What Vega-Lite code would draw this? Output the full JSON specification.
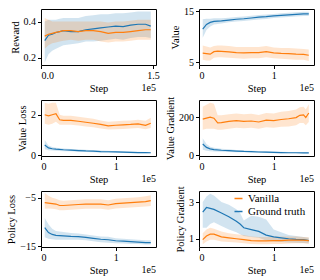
{
"$schema": "https://vega.github.io/schema/vega-lite/v6.json",
"padding": {"left": 6, "top": 5, "right": 5, "bottom": 2},
"bounds": "flush",
"columns": 2,
"spacing": {"row": 35, "column": 43},
"resolve": {"scale": {"x": "independent", "y": "independent"}},
"datasets": {
"r": [
{"s":"Ground truth","x":0.05,"m":0.295,"lo":0.175,"hi":0.40},
{"s":"Ground truth","x":0.1,"m":0.325,"lo":0.22,"hi":0.41},
{"s":"Ground truth","x":0.15,"m":0.33,"lo":0.24,"hi":0.41},
{"s":"Ground truth","x":0.2,"m":0.34,"lo":0.25,"hi":0.41},
{"s":"Ground truth","x":0.25,"m":0.345,"lo":0.26,"hi":0.415},
{"s":"Ground truth","x":0.3,"m":0.35,"lo":0.27,"hi":0.42},
{"s":"Ground truth","x":0.4,"m":0.345,"lo":0.275,"hi":0.42},
{"s":"Ground truth","x":0.5,"m":0.345,"lo":0.28,"hi":0.42},
{"s":"Ground truth","x":0.6,"m":0.355,"lo":0.29,"hi":0.43},
{"s":"Ground truth","x":0.7,"m":0.36,"lo":0.29,"hi":0.435},
{"s":"Ground truth","x":0.8,"m":0.365,"lo":0.295,"hi":0.44},
{"s":"Ground truth","x":0.9,"m":0.37,"lo":0.30,"hi":0.44},
{"s":"Ground truth","x":1.0,"m":0.375,"lo":0.305,"hi":0.445},
{"s":"Ground truth","x":1.1,"m":0.372,"lo":0.30,"hi":0.445},
{"s":"Ground truth","x":1.2,"m":0.38,"lo":0.31,"hi":0.45},
{"s":"Ground truth","x":1.3,"m":0.385,"lo":0.315,"hi":0.455},
{"s":"Ground truth","x":1.4,"m":0.385,"lo":0.315,"hi":0.455},
{"s":"Ground truth","x":1.47,"m":0.375,"lo":0.31,"hi":0.455},
{"s":"Vanilla","x":0.05,"m":0.32,"lo":0.25,"hi":0.42},
{"s":"Vanilla","x":0.1,"m":0.33,"lo":0.27,"hi":0.41},
{"s":"Vanilla","x":0.15,"m":0.335,"lo":0.28,"hi":0.40},
{"s":"Vanilla","x":0.2,"m":0.34,"lo":0.285,"hi":0.40},
{"s":"Vanilla","x":0.25,"m":0.345,"lo":0.29,"hi":0.40},
{"s":"Vanilla","x":0.3,"m":0.35,"lo":0.295,"hi":0.40},
{"s":"Vanilla","x":0.4,"m":0.35,"lo":0.30,"hi":0.40},
{"s":"Vanilla","x":0.5,"m":0.345,"lo":0.295,"hi":0.40},
{"s":"Vanilla","x":0.6,"m":0.35,"lo":0.30,"hi":0.40},
{"s":"Vanilla","x":0.7,"m":0.35,"lo":0.30,"hi":0.40},
{"s":"Vanilla","x":0.8,"m":0.345,"lo":0.29,"hi":0.40},
{"s":"Vanilla","x":0.9,"m":0.335,"lo":0.285,"hi":0.395},
{"s":"Vanilla","x":1.0,"m":0.34,"lo":0.29,"hi":0.40},
{"s":"Vanilla","x":1.1,"m":0.34,"lo":0.29,"hi":0.40},
{"s":"Vanilla","x":1.2,"m":0.345,"lo":0.295,"hi":0.405},
{"s":"Vanilla","x":1.3,"m":0.35,"lo":0.30,"hi":0.41},
{"s":"Vanilla","x":1.4,"m":0.355,"lo":0.30,"hi":0.41},
{"s":"Vanilla","x":1.47,"m":0.355,"lo":0.30,"hi":0.41}
],
"v": [
{"s":"Ground truth","x":0.05,"m":11.5,"lo":9.8,"hi":13.4},
{"s":"Ground truth","x":0.1,"m":12.4,"lo":11.3,"hi":13.5},
{"s":"Ground truth","x":0.15,"m":12.8,"lo":12.0,"hi":13.5},
{"s":"Ground truth","x":0.2,"m":13.0,"lo":12.4,"hi":13.6},
{"s":"Ground truth","x":0.25,"m":13.05,"lo":12.5,"hi":13.6},
{"s":"Ground truth","x":0.3,"m":13.1,"lo":12.6,"hi":13.6},
{"s":"Ground truth","x":0.4,"m":13.25,"lo":12.8,"hi":13.7},
{"s":"Ground truth","x":0.5,"m":13.4,"lo":12.95,"hi":13.85},
{"s":"Ground truth","x":0.6,"m":13.5,"lo":13.05,"hi":13.95},
{"s":"Ground truth","x":0.7,"m":13.65,"lo":13.2,"hi":14.1},
{"s":"Ground truth","x":0.8,"m":13.8,"lo":13.35,"hi":14.25},
{"s":"Ground truth","x":0.9,"m":13.9,"lo":13.45,"hi":14.35},
{"s":"Ground truth","x":1.0,"m":14.05,"lo":13.65,"hi":14.45},
{"s":"Ground truth","x":1.1,"m":14.15,"lo":13.75,"hi":14.55},
{"s":"Ground truth","x":1.2,"m":14.25,"lo":13.85,"hi":14.65},
{"s":"Ground truth","x":1.3,"m":14.35,"lo":13.95,"hi":14.75},
{"s":"Ground truth","x":1.4,"m":14.45,"lo":14.05,"hi":14.85},
{"s":"Ground truth","x":1.47,"m":14.45,"lo":14.05,"hi":14.85},
{"s":"Vanilla","x":0.05,"m":6.8,"lo":5.5,"hi":8.3},
{"s":"Vanilla","x":0.1,"m":6.7,"lo":5.4,"hi":8.1},
{"s":"Vanilla","x":0.15,"m":6.6,"lo":5.4,"hi":7.9},
{"s":"Vanilla","x":0.2,"m":7.1,"lo":5.9,"hi":8.2},
{"s":"Vanilla","x":0.25,"m":7.2,"lo":6.0,"hi":8.3},
{"s":"Vanilla","x":0.3,"m":7.15,"lo":6.0,"hi":8.3},
{"s":"Vanilla","x":0.4,"m":7.05,"lo":5.9,"hi":8.2},
{"s":"Vanilla","x":0.5,"m":6.9,"lo":5.8,"hi":8.0},
{"s":"Vanilla","x":0.6,"m":6.85,"lo":5.7,"hi":8.0},
{"s":"Vanilla","x":0.7,"m":6.9,"lo":5.8,"hi":8.0},
{"s":"Vanilla","x":0.8,"m":6.9,"lo":5.8,"hi":8.0},
{"s":"Vanilla","x":0.9,"m":7.1,"lo":6.0,"hi":8.2},
{"s":"Vanilla","x":1.0,"m":6.85,"lo":5.8,"hi":7.9},
{"s":"Vanilla","x":1.1,"m":6.75,"lo":5.7,"hi":7.8},
{"s":"Vanilla","x":1.2,"m":6.7,"lo":5.6,"hi":7.8},
{"s":"Vanilla","x":1.3,"m":6.6,"lo":5.5,"hi":7.7},
{"s":"Vanilla","x":1.4,"m":6.55,"lo":5.5,"hi":7.6},
{"s":"Vanilla","x":1.47,"m":6.4,"lo":5.3,"hi":7.5}
],
"vl": [
{"s":"Ground truth","x":0.05,"m":0.5,"lo":0.3,"hi":0.75},
{"s":"Ground truth","x":0.1,"m":0.36,"lo":0.25,"hi":0.48},
{"s":"Ground truth","x":0.15,"m":0.32,"lo":0.23,"hi":0.4},
{"s":"Ground truth","x":0.2,"m":0.3,"lo":0.22,"hi":0.37},
{"s":"Ground truth","x":0.3,"m":0.27,"lo":0.2,"hi":0.33},
{"s":"Ground truth","x":0.4,"m":0.25,"lo":0.19,"hi":0.31},
{"s":"Ground truth","x":0.5,"m":0.23,"lo":0.17,"hi":0.29},
{"s":"Ground truth","x":0.6,"m":0.21,"lo":0.16,"hi":0.27},
{"s":"Ground truth","x":0.7,"m":0.2,"lo":0.15,"hi":0.25},
{"s":"Ground truth","x":0.8,"m":0.18,"lo":0.13,"hi":0.23},
{"s":"Ground truth","x":0.9,"m":0.17,"lo":0.12,"hi":0.22},
{"s":"Ground truth","x":1.0,"m":0.16,"lo":0.12,"hi":0.2},
{"s":"Ground truth","x":1.1,"m":0.15,"lo":0.11,"hi":0.19},
{"s":"Ground truth","x":1.2,"m":0.14,"lo":0.1,"hi":0.18},
{"s":"Ground truth","x":1.3,"m":0.13,"lo":0.1,"hi":0.17},
{"s":"Ground truth","x":1.4,"m":0.13,"lo":0.1,"hi":0.16},
{"s":"Ground truth","x":1.47,"m":0.12,"lo":0.09,"hi":0.15},
{"s":"Vanilla","x":0.05,"m":2.0,"lo":1.55,"hi":2.6},
{"s":"Vanilla","x":0.1,"m":1.95,"lo":1.5,"hi":2.55},
{"s":"Vanilla","x":0.15,"m":2.0,"lo":1.55,"hi":2.6},
{"s":"Vanilla","x":0.2,"m":2.05,"lo":1.65,"hi":2.6},
{"s":"Vanilla","x":0.25,"m":1.75,"lo":1.5,"hi":2.0},
{"s":"Vanilla","x":0.3,"m":1.72,"lo":1.5,"hi":1.95},
{"s":"Vanilla","x":0.4,"m":1.72,"lo":1.5,"hi":1.95},
{"s":"Vanilla","x":0.5,"m":1.68,"lo":1.47,"hi":1.9},
{"s":"Vanilla","x":0.6,"m":1.63,"lo":1.42,"hi":1.85},
{"s":"Vanilla","x":0.7,"m":1.58,"lo":1.38,"hi":1.8},
{"s":"Vanilla","x":0.8,"m":1.52,"lo":1.32,"hi":1.72},
{"s":"Vanilla","x":0.9,"m":1.45,"lo":1.27,"hi":1.65},
{"s":"Vanilla","x":1.0,"m":1.48,"lo":1.28,"hi":1.68},
{"s":"Vanilla","x":1.1,"m":1.5,"lo":1.3,"hi":1.7},
{"s":"Vanilla","x":1.2,"m":1.52,"lo":1.32,"hi":1.72},
{"s":"Vanilla","x":1.3,"m":1.55,"lo":1.35,"hi":1.75},
{"s":"Vanilla","x":1.4,"m":1.48,"lo":1.28,"hi":1.7},
{"s":"Vanilla","x":1.47,"m":1.58,"lo":1.35,"hi":1.85}
],
"vg": [
{"s":"Ground truth","x":0.05,"m":60,"lo":30,"hi":90},
{"s":"Ground truth","x":0.1,"m":42,"lo":25,"hi":60},
{"s":"Ground truth","x":0.15,"m":34,"lo":22,"hi":45},
{"s":"Ground truth","x":0.2,"m":30,"lo":20,"hi":40},
{"s":"Ground truth","x":0.3,"m":27,"lo":19,"hi":35},
{"s":"Ground truth","x":0.4,"m":25,"lo":18,"hi":32},
{"s":"Ground truth","x":0.5,"m":23,"lo":17,"hi":29},
{"s":"Ground truth","x":0.6,"m":21,"lo":16,"hi":27},
{"s":"Ground truth","x":0.7,"m":20,"lo":15,"hi":25},
{"s":"Ground truth","x":0.8,"m":18,"lo":14,"hi":23},
{"s":"Ground truth","x":0.9,"m":17,"lo":13,"hi":22},
{"s":"Ground truth","x":1.0,"m":16,"lo":12,"hi":20},
{"s":"Ground truth","x":1.1,"m":15,"lo":11,"hi":19},
{"s":"Ground truth","x":1.2,"m":14,"lo":11,"hi":18},
{"s":"Ground truth","x":1.3,"m":14,"lo":11,"hi":17},
{"s":"Ground truth","x":1.4,"m":13,"lo":10,"hi":16},
{"s":"Ground truth","x":1.47,"m":13,"lo":10,"hi":16},
{"s":"Vanilla","x":0.05,"m":190,"lo":135,"hi":255},
{"s":"Vanilla","x":0.1,"m":195,"lo":140,"hi":265},
{"s":"Vanilla","x":0.15,"m":200,"lo":140,"hi":275},
{"s":"Vanilla","x":0.2,"m":195,"lo":140,"hi":270},
{"s":"Vanilla","x":0.25,"m":170,"lo":135,"hi":210},
{"s":"Vanilla","x":0.3,"m":172,"lo":135,"hi":210},
{"s":"Vanilla","x":0.4,"m":178,"lo":140,"hi":215},
{"s":"Vanilla","x":0.5,"m":182,"lo":145,"hi":220},
{"s":"Vanilla","x":0.6,"m":178,"lo":142,"hi":215},
{"s":"Vanilla","x":0.7,"m":180,"lo":145,"hi":218},
{"s":"Vanilla","x":0.8,"m":175,"lo":140,"hi":212},
{"s":"Vanilla","x":0.9,"m":185,"lo":148,"hi":222},
{"s":"Vanilla","x":1.0,"m":182,"lo":145,"hi":220},
{"s":"Vanilla","x":1.1,"m":188,"lo":150,"hi":228},
{"s":"Vanilla","x":1.2,"m":192,"lo":152,"hi":232},
{"s":"Vanilla","x":1.3,"m":198,"lo":158,"hi":240},
{"s":"Vanilla","x":1.35,"m":210,"lo":170,"hi":252},
{"s":"Vanilla","x":1.4,"m":212,"lo":170,"hi":255},
{"s":"Vanilla","x":1.43,"m":198,"lo":158,"hi":240},
{"s":"Vanilla","x":1.47,"m":222,"lo":175,"hi":268}
],
"pl": [
{"s":"Ground truth","x":0.05,"m":-11.2,"lo":-13.2,"hi":-9.2},
{"s":"Ground truth","x":0.1,"m":-12.2,"lo":-13.5,"hi":-10.5},
{"s":"Ground truth","x":0.15,"m":-12.6,"lo":-13.6,"hi":-11.4},
{"s":"Ground truth","x":0.2,"m":-12.8,"lo":-13.7,"hi":-11.9},
{"s":"Ground truth","x":0.3,"m":-12.9,"lo":-13.7,"hi":-12.1},
{"s":"Ground truth","x":0.4,"m":-13.0,"lo":-13.7,"hi":-12.3},
{"s":"Ground truth","x":0.5,"m":-13.05,"lo":-13.7,"hi":-12.4},
{"s":"Ground truth","x":0.6,"m":-13.2,"lo":-13.8,"hi":-12.6},
{"s":"Ground truth","x":0.7,"m":-13.4,"lo":-14.0,"hi":-12.8},
{"s":"Ground truth","x":0.8,"m":-13.6,"lo":-14.2,"hi":-13.0},
{"s":"Ground truth","x":0.9,"m":-13.7,"lo":-14.3,"hi":-13.1},
{"s":"Ground truth","x":1.0,"m":-13.9,"lo":-14.4,"hi":-13.4},
{"s":"Ground truth","x":1.1,"m":-14.0,"lo":-14.5,"hi":-13.5},
{"s":"Ground truth","x":1.2,"m":-14.1,"lo":-14.6,"hi":-13.6},
{"s":"Ground truth","x":1.3,"m":-14.2,"lo":-14.6,"hi":-13.7},
{"s":"Ground truth","x":1.4,"m":-14.3,"lo":-14.7,"hi":-13.8},
{"s":"Ground truth","x":1.47,"m":-14.3,"lo":-14.7,"hi":-13.8},
{"s":"Vanilla","x":0.05,"m":-6.0,"lo":-7.3,"hi":-4.0},
{"s":"Vanilla","x":0.1,"m":-6.1,"lo":-7.2,"hi":-4.6},
{"s":"Vanilla","x":0.15,"m":-6.2,"lo":-7.3,"hi":-5.0},
{"s":"Vanilla","x":0.2,"m":-6.3,"lo":-7.4,"hi":-5.2},
{"s":"Vanilla","x":0.25,"m":-6.6,"lo":-7.6,"hi":-5.5},
{"s":"Vanilla","x":0.3,"m":-6.6,"lo":-7.6,"hi":-5.6},
{"s":"Vanilla","x":0.4,"m":-6.5,"lo":-7.5,"hi":-5.5},
{"s":"Vanilla","x":0.5,"m":-6.4,"lo":-7.4,"hi":-5.4},
{"s":"Vanilla","x":0.6,"m":-6.3,"lo":-7.3,"hi":-5.3},
{"s":"Vanilla","x":0.7,"m":-6.3,"lo":-7.3,"hi":-5.3},
{"s":"Vanilla","x":0.8,"m":-6.3,"lo":-7.3,"hi":-5.3},
{"s":"Vanilla","x":0.9,"m":-6.5,"lo":-7.5,"hi":-5.5},
{"s":"Vanilla","x":1.0,"m":-6.2,"lo":-7.2,"hi":-5.2},
{"s":"Vanilla","x":1.1,"m":-6.1,"lo":-7.1,"hi":-5.1},
{"s":"Vanilla","x":1.2,"m":-6.0,"lo":-7.0,"hi":-5.0},
{"s":"Vanilla","x":1.3,"m":-5.9,"lo":-6.9,"hi":-4.9},
{"s":"Vanilla","x":1.4,"m":-5.8,"lo":-6.8,"hi":-4.7},
{"s":"Vanilla","x":1.47,"m":-5.6,"lo":-6.7,"hi":-4.5}
],
"pg": [
{"s":"Ground truth","x":0.05,"m":2.45,"lo":1.6,"hi":3.0},
{"s":"Ground truth","x":0.1,"m":2.7,"lo":1.6,"hi":3.3},
{"s":"Ground truth","x":0.15,"m":2.65,"lo":1.8,"hi":3.45},
{"s":"Ground truth","x":0.2,"m":2.6,"lo":1.9,"hi":3.35},
{"s":"Ground truth","x":0.3,"m":2.4,"lo":1.7,"hi":3.0},
{"s":"Ground truth","x":0.4,"m":2.2,"lo":1.5,"hi":2.85},
{"s":"Ground truth","x":0.5,"m":1.95,"lo":1.35,"hi":2.6},
{"s":"Ground truth","x":0.55,"m":1.8,"lo":1.25,"hi":2.4},
{"s":"Ground truth","x":0.6,"m":1.6,"lo":1.15,"hi":2.0},
{"s":"Ground truth","x":0.7,"m":1.5,"lo":1.1,"hi":2.25},
{"s":"Ground truth","x":0.8,"m":1.4,"lo":1.05,"hi":2.2},
{"s":"Ground truth","x":0.9,"m":1.2,"lo":0.9,"hi":2.05},
{"s":"Ground truth","x":1.0,"m":1.1,"lo":0.85,"hi":1.5},
{"s":"Ground truth","x":1.1,"m":1.05,"lo":0.82,"hi":1.35},
{"s":"Ground truth","x":1.2,"m":1.0,"lo":0.8,"hi":1.2},
{"s":"Ground truth","x":1.3,"m":0.97,"lo":0.78,"hi":1.15},
{"s":"Ground truth","x":1.4,"m":0.95,"lo":0.77,"hi":1.1},
{"s":"Ground truth","x":1.47,"m":0.9,"lo":0.75,"hi":1.05},
{"s":"Vanilla","x":0.05,"m":0.95,"lo":0.7,"hi":1.3},
{"s":"Vanilla","x":0.1,"m":1.15,"lo":0.85,"hi":1.5},
{"s":"Vanilla","x":0.15,"m":1.25,"lo":0.95,"hi":1.6},
{"s":"Vanilla","x":0.2,"m":1.25,"lo":0.95,"hi":1.55},
{"s":"Vanilla","x":0.3,"m":1.1,"lo":0.85,"hi":1.4},
{"s":"Vanilla","x":0.4,"m":1.05,"lo":0.82,"hi":1.3},
{"s":"Vanilla","x":0.5,"m":1.0,"lo":0.8,"hi":1.25},
{"s":"Vanilla","x":0.6,"m":0.95,"lo":0.75,"hi":1.2},
{"s":"Vanilla","x":0.7,"m":0.9,"lo":0.72,"hi":1.12},
{"s":"Vanilla","x":0.8,"m":0.88,"lo":0.7,"hi":1.1},
{"s":"Vanilla","x":0.9,"m":0.88,"lo":0.7,"hi":1.1},
{"s":"Vanilla","x":1.0,"m":0.9,"lo":0.72,"hi":1.12},
{"s":"Vanilla","x":1.1,"m":0.9,"lo":0.72,"hi":1.12},
{"s":"Vanilla","x":1.2,"m":0.92,"lo":0.74,"hi":1.12},
{"s":"Vanilla","x":1.3,"m":0.93,"lo":0.75,"hi":1.12},
{"s":"Vanilla","x":1.4,"m":0.92,"lo":0.75,"hi":1.1},
{"s":"Vanilla","x":1.47,"m":0.9,"lo":0.72,"hi":1.08}
],
"t": [{"t": "1e5"}]
},
"concat": [
{"width": 115, "height": 56, "layer": [
 {"data": {"name": "r"}, "mark": {"type": "area", "opacity": 0.2}, "encoding": {
  "x": {"field": "x", "type": "quantitative", "scale": {"domain": [0, 1.54], "nice": false}, "axis": {"values": [0, 0.5, 1, 1.5], "format": ".1f", "title": "Step"}},
  "y": {"field": "lo", "type": "quantitative", "scale": {"domain": [0.161, 0.469], "nice": false, "zero": false}, "axis": {"values": [0.2, 0.3, 0.4], "format": ".1f", "title": "Reward"}},
  "y2": {"field": "hi"},
  "fill": {"field": "s", "type": "nominal", "scale": {"domain": ["Vanilla", "Ground truth"], "range": ["#ff7f0e", "#1f77b4"]}}}},
 {"data": {"name": "r"}, "mark": {"type": "line", "strokeWidth": 1.2}, "encoding": {
  "x": {"field": "x", "type": "quantitative"},
  "y": {"field": "m", "type": "quantitative"},
  "color": {"field": "s", "type": "nominal", "scale": {"domain": ["Vanilla", "Ground truth"], "range": ["#ff7f0e", "#1f77b4"]}}}},
 {"data": {"name": "t"}, "mark": {"type": "text", "align": "right", "baseline": "middle", "dy": 23, "fontSize": 10, "font": "Liberation Serif"}, "encoding": {
  "x": {"datum": 1.54}, "y": {"datum": 0.161}, "text": {"field": "t"}}}
]},
{"width": 115, "height": 56, "layer": [
 {"data": {"name": "v"}, "mark": {"type": "area", "opacity": 0.2}, "encoding": {
  "x": {"field": "x", "type": "quantitative", "scale": {"domain": [0, 1.54], "nice": false}, "axis": {"values": [0, 1], "format": "d", "title": "Step"}},
  "y": {"field": "lo", "type": "quantitative", "scale": {"domain": [4.5, 15.4], "nice": false, "zero": false}, "axis": {"values": [5, 10, 15], "title": "Value"}},
  "y2": {"field": "hi"},
  "fill": {"field": "s", "type": "nominal"}}},
 {"data": {"name": "v"}, "mark": {"type": "line", "strokeWidth": 1.2}, "encoding": {
  "x": {"field": "x", "type": "quantitative"},
  "y": {"field": "m", "type": "quantitative"},
  "color": {"field": "s", "type": "nominal"}}},
 {"data": {"name": "t"}, "mark": {"type": "text", "align": "right", "baseline": "middle", "dy": 23, "fontSize": 10, "font": "Liberation Serif"}, "encoding": {
  "x": {"datum": 1.54}, "y": {"datum": 4.5}, "text": {"field": "t"}}}
]},
{"width": 115, "height": 56, "layer": [
 {"data": {"name": "vl"}, "mark": {"type": "area", "opacity": 0.2}, "encoding": {
  "x": {"field": "x", "type": "quantitative", "scale": {"domain": [0, 1.54], "nice": false}, "axis": {"values": [0, 1], "format": "d", "title": "Step"}},
  "y": {"field": "lo", "type": "quantitative", "scale": {"domain": [-0.04, 2.73], "nice": false, "zero": false}, "axis": {"values": [0, 2], "title": "Value Loss"}},
  "y2": {"field": "hi"},
  "fill": {"field": "s", "type": "nominal"}}},
 {"data": {"name": "vl"}, "mark": {"type": "line", "strokeWidth": 1.2}, "encoding": {
  "x": {"field": "x", "type": "quantitative"},
  "y": {"field": "m", "type": "quantitative"},
  "color": {"field": "s", "type": "nominal"}}},
 {"data": {"name": "t"}, "mark": {"type": "text", "align": "right", "baseline": "middle", "dy": 23, "fontSize": 10, "font": "Liberation Serif"}, "encoding": {
  "x": {"datum": 1.54}, "y": {"datum": -0.04}, "text": {"field": "t"}}}
]},
{"width": 115, "height": 56, "layer": [
 {"data": {"name": "vg"}, "mark": {"type": "area", "opacity": 0.2}, "encoding": {
  "x": {"field": "x", "type": "quantitative", "scale": {"domain": [0, 1.54], "nice": false}, "axis": {"values": [0, 1], "format": "d", "title": "Step"}},
  "y": {"field": "lo", "type": "quantitative", "scale": {"domain": [-3, 290], "nice": false, "zero": false}, "axis": {"values": [0, 200], "title": "Value Gradient"}},
  "y2": {"field": "hi"},
  "fill": {"field": "s", "type": "nominal"}}},
 {"data": {"name": "vg"}, "mark": {"type": "line", "strokeWidth": 1.2}, "encoding": {
  "x": {"field": "x", "type": "quantitative"},
  "y": {"field": "m", "type": "quantitative"},
  "color": {"field": "s", "type": "nominal"}}},
 {"data": {"name": "t"}, "mark": {"type": "text", "align": "right", "baseline": "middle", "dy": 23, "fontSize": 10, "font": "Liberation Serif"}, "encoding": {
  "x": {"datum": 1.54}, "y": {"datum": -3}, "text": {"field": "t"}}}
]},
{"width": 115, "height": 56, "layer": [
 {"data": {"name": "pl"}, "mark": {"type": "area", "opacity": 0.2}, "encoding": {
  "x": {"field": "x", "type": "quantitative", "scale": {"domain": [0, 1.54], "nice": false}, "axis": {"values": [0, 1], "format": "d", "title": "Step"}},
  "y": {"field": "lo", "type": "quantitative", "scale": {"domain": [-15.2, -3.6], "nice": false, "zero": false}, "axis": {"values": [-15, -10, -5], "title": "Policy Loss"}},
  "y2": {"field": "hi"},
  "fill": {"field": "s", "type": "nominal"}}},
 {"data": {"name": "pl"}, "mark": {"type": "line", "strokeWidth": 1.2}, "encoding": {
  "x": {"field": "x", "type": "quantitative"},
  "y": {"field": "m", "type": "quantitative"},
  "color": {"field": "s", "type": "nominal"}}},
 {"data": {"name": "t"}, "mark": {"type": "text", "align": "right", "baseline": "middle", "dy": 23, "fontSize": 10, "font": "Liberation Serif"}, "encoding": {
  "x": {"datum": 1.54}, "y": {"datum": -15.2}, "text": {"field": "t"}}}
]},
{"width": 115, "height": 56, "layer": [
 {"data": {"name": "pg"}, "mark": {"type": "area", "opacity": 0.2}, "encoding": {
  "x": {"field": "x", "type": "quantitative", "scale": {"domain": [0, 1.54], "nice": false}, "axis": {"values": [0, 1], "format": "d", "title": "Step"}},
  "y": {"field": "lo", "type": "quantitative", "scale": {"domain": [0.55, 3.6], "nice": false, "zero": false}, "axis": {"values": [1, 2, 3], "title": "Policy Gradient"}},
  "y2": {"field": "hi"},
  "fill": {"field": "s", "type": "nominal"}}},
 {"data": {"name": "pg"}, "mark": {"type": "line", "strokeWidth": 1.2}, "encoding": {
  "x": {"field": "x", "type": "quantitative"},
  "y": {"field": "m", "type": "quantitative"},
  "color": {"field": "s", "type": "nominal",
   "legend": {"orient": "none", "legendX": 192, "legendY": 184, "title": null, "symbolType": "stroke", "symbolStrokeWidth": 1.5, "symbolSize": 64, "labelFont": "Liberation Serif", "labelFontSize": 11, "labelColor": "black", "rowPadding": 1, "labelOffset": 4, "padding": 0,
    "encode": {"symbols": {"update": {"opacity": {"value": 1}, "strokeOpacity": {"value": 1}, "fillOpacity": {"value": 0}, "stroke": {"scale": "color", "field": "value"}, "strokeWidth": {"value": 1.5}}}}}}}},
 {"data": {"name": "t"}, "mark": {"type": "text", "align": "right", "baseline": "middle", "dy": 23, "fontSize": 10, "font": "Liberation Serif"}, "encoding": {
  "x": {"datum": 1.54}, "y": {"datum": 0.55}, "text": {"field": "t"}}}
]}
],
"config": {
 "font": "Liberation Serif",
 "view": {"stroke": "black", "strokeWidth": 1},
 "axis": {"grid": false, "domain": false, "tickColor": "black", "tickSize": 3.5, "labelFont": "Liberation Serif", "labelFontSize": 10, "labelColor": "black", "titleFont": "Liberation Serif", "titleFontSize": 10.5, "titleFontWeight": "normal", "titleColor": "black", "labelPadding": 2, "titlePadding": 3}
}
}
